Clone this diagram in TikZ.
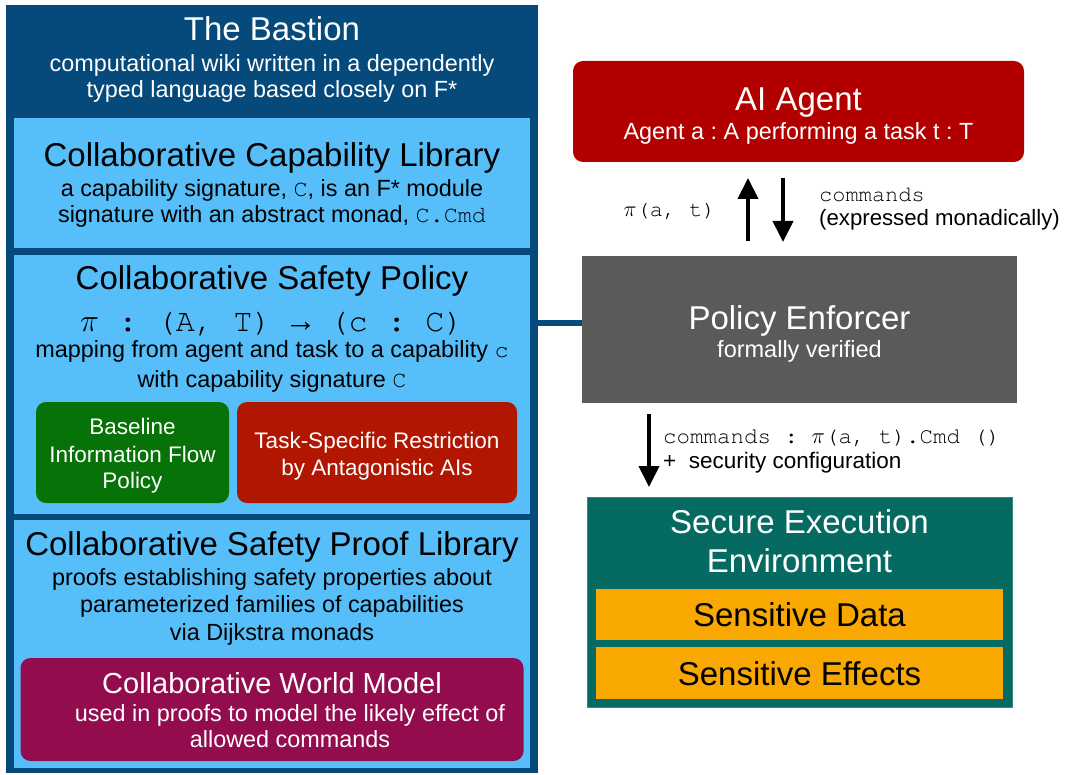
\RequirePackage{fix-cm}
\documentclass[tikz,border=0pt]{standalone}
\usepackage{fontspec}
\setmainfont{Liberation Sans}
\setmonofont{texgyrecursor-regular.otf}
\newfontfamily\arrowfont{Liberation Mono}
\usetikzlibrary{arrows.meta}
\frenchspacing

\definecolor{bastionblue}{HTML}{054A7B}
\definecolor{paleblue}{HTML}{56BEF8}
\definecolor{flowgreen}{HTML}{077207}
\definecolor{taskred}{HTML}{B01600}
\definecolor{worldplum}{HTML}{930D4E}
\definecolor{agentred}{HTML}{B20000}
\definecolor{enfgray}{HTML}{5A5A5A}
\definecolor{seeteal}{HTML}{056B62}
\definecolor{seeedge}{HTML}{2E8A82}
\definecolor{sensorange}{HTML}{F8A800}

\newcommand{\setfs}[2]{\fontsize{#1}{#2}\selectfont}

\begin{document}
\begin{tikzpicture}[x=1pt,y=-1pt,
  panel/.style={rectangle, inner sep=0, outer sep=0, draw=none},
  roundpanel/.style={panel, rounded corners=10pt},
  lbl/.style={inner sep=0, anchor=base},
  lblw/.style={inner sep=0, anchor=base west},
  head/.style={lbl, font=\setfs{33}{38}},
  body/.style={lbl, font=\setfs{23.4}{26}},
  boxtxt/.style={lbl, white, font=\setfs{22.5}{26}},
  codelbl/.style={lblw, font=\ttfamily\setfs{22}{26}},
  link/.style={bastionblue, line width=6pt},
  bigarrow/.style={line width=4pt, -{Triangle[width=20pt,length=21pt]}}
]
\useasboundingbox (0,0) rectangle (1065,775);
\fill[white] (0,0) rectangle (1065,775);

% ---------- The Bastion column ----------
\node[panel, fill=bastionblue, minimum width=532pt, minimum height=768pt] (bastion) at (272,389) {};
\node[panel, fill=paleblue, minimum width=516pt, minimum height=130pt] (caplib) at (272,183) {};
\node[panel, fill=paleblue, minimum width=516pt, minimum height=259pt] (policy) at (272,384.5) {};
\node[panel, fill=paleblue, minimum width=516pt, minimum height=248pt] (prooflib) at (272,644) {};
\node[roundpanel, fill=flowgreen, minimum width=193pt, minimum height=101pt] (baseline) at (132.5,452.5) {};
\node[roundpanel, fill=taskred, minimum width=280pt, minimum height=101pt] (taskres) at (377,452.5) {};
\node[roundpanel, fill=worldplum, minimum width=503pt, minimum height=103pt] (world) at (272,709.5) {};

\node[head, white] (bastionT) at (272,41) {The Bastion};
\node[body, white] (bastionA) at (272,72) {computational wiki written in a dependently};
\node[body, white] (bastionB) at (272,98) {typed language based closely on F*};

\node[head] (caplibT) at (272,167) {Collaborative Capability Library};
\node[body] (caplibA) at (272,197) {a capability signature, \texttt{C}, is an F* module};
\node[body] (caplibB) at (272,223) {signature with an abstract monad, \texttt{C.Cmd}};

\node[head] (policyT) at (272,290) {Collaborative Safety Policy};
\node[lbl, font=\ttfamily\setfs{32}{36}] (policyF) at (272,332) {$\pi$ : (A, T) {\arrowfont →} (c : C)};
\node[body] (policyA) at (272,358) {mapping from agent and task to a capability \texttt{c}};
\node[body] (policyB) at (272,387) {with capability signature \texttt{C}};

\node[boxtxt] (baselineA) at (132.5,434) {Baseline};
\node[boxtxt] (baselineB) at (132.5,462) {Information Flow};
\node[boxtxt] (baselineC) at (132.5,488) {Policy};
\node[boxtxt] (taskresA) at (377,448) {Task-Specific Restriction};
\node[boxtxt] (taskresB) at (377,475) {by Antagonistic AIs};

\node[head] (prooflibT) at (272,555) {Collaborative Safety Proof Library};
\node[body] (prooflibA) at (272,585) {proofs establishing safety properties about};
\node[body] (prooflibB) at (272,612) {parameterized families of capabilities};
\node[body] (prooflibC) at (272,640) {via Dijkstra monads};

\node[lbl, white, font=\setfs{29}{34}] (worldT) at (272,693) {Collaborative World Model};
\node[body, white] (worldA) at (290,721) {used in proofs to model the likely effect of};
\node[body, white] (worldB) at (290,747) {allowed commands};

% ---------- Agent, enforcer and execution environment ----------
\node[roundpanel, fill=agentred, minimum width=451pt, minimum height=101pt] (agent) at (798.5,111.5) {};
\node[head, white] (agentT) at (798.5,111) {AI Agent};
\node[body, white] (agentA) at (798.5,140) {Agent a : A performing a task t : T};

\node[panel, fill=enfgray, minimum width=435pt, minimum height=147pt] (enforcer) at (799.5,329.5) {};
\node[head, white] (enforcerT) at (799.5,330) {Policy Enforcer};
\node[lbl, white, font=\setfs{23.5}{27}] (enforcerA) at (799.5,358) {formally verified};

\node[panel, fill=seeteal, draw=seeedge, line width=1pt, minimum width=425pt, minimum height=210pt] (see) at (799.5,602) {};
\node[head, white] (seeT) at (799.5,533) {Secure Execution};
\node[head, white] (seeT2) at (799.5,572) {Environment};
\node[panel, fill=sensorange, minimum width=407pt, minimum height=51pt] (sdata) at (799.5,614.5) {};
\node[head] (sdataT) at (799.5,626) {Sensitive Data};
\node[panel, fill=sensorange, minimum width=407pt, minimum height=52pt] (seff) at (799.5,673) {};
\node[head] (seffT) at (799.5,685) {Sensitive Effects};

% ---------- connectors ----------
\coordinate (linkY) at (0,323);
\draw[link] (bastion.east |- linkY) -- (enforcer.west |- linkY);

\coordinate (upX) at (748,0);
\coordinate (downX) at (783,0);
\coordinate (execX) at (649,0);
\draw[bigarrow, shorten <=15pt, shorten >=16pt] (enforcer.north -| upX) -- (agent.south -| upX);
\draw[bigarrow, shorten <=16pt, shorten >=14pt] (agent.south -| downX) -- (enforcer.north -| downX);
\draw[bigarrow, shorten <=11pt, shorten >=10pt] (enforcer.south -| execX) -- (see.north -| execX);

% ---------- connector labels ----------
\node[lbl, anchor=base east, font=\ttfamily\setfs{22}{26}] (piLbl) at (716,217) {$\pi$(a, t)};
\node[codelbl] (cmdLbl) at (819,202) {commands};
\node[lblw, font=\setfs{22.2}{26}] (cmdNote) at (819,226) {(expressed monadically)};
\node[codelbl, font=\ttfamily\setfs{22.5}{26}] (execLbl) at (663,443) {commands : $\pi$(a, t).Cmd ()};
\node[lblw, font=\setfs{22.5}{26}] (execNote) at (663,468) {+ \ security configuration};

\end{tikzpicture}
\end{document}
